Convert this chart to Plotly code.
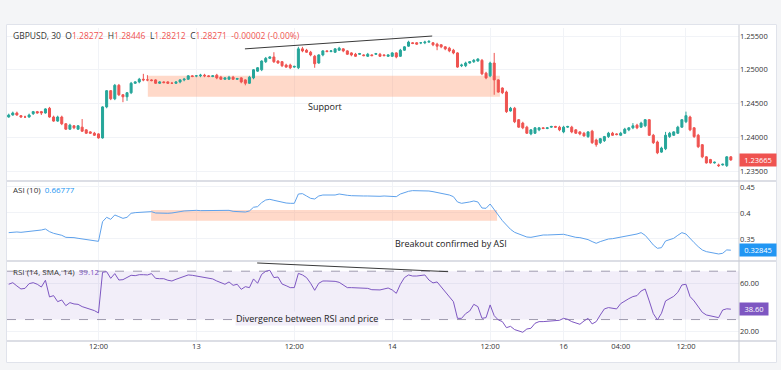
import plotly.graph_objects as go
from plotly.subplots import make_subplots

# ---------------- data ----------------
idx = list(range(178))

opens = [1.2430,1.2433,1.2436,1.2432,1.2430,1.2430,1.2435,1.2438,1.2438,1.2436,
 1.2443,1.2430,1.2424,1.2430,1.2420,1.2412,1.2417,1.2412,1.2415,1.2411,
 1.2408,1.2406,1.2405,1.2399,1.2445,1.2469,1.2457,1.2477,1.2463,1.2460,
 1.2466,1.2480,1.2482,1.2486,1.2485,1.2485,1.2485,1.2480,1.2482,1.2482,
 1.2480,1.2480,1.2482,1.2485,1.2486,1.2491,1.2491,1.2491,1.2492,1.2491,
 1.2490,1.2492,1.2489,1.2486,1.2486,1.2489,1.2486,1.2488,1.2485,1.2480,
 1.2488,1.2498,1.2500,1.2512,1.2517,1.2519,1.2513,1.2512,1.2507,1.2507,
 1.2504,1.2503,1.2531,1.2529,1.2526,1.2520,1.2510,1.2522,1.2528,1.2527,
 1.2526,1.2529,1.2531,1.2528,1.2525,1.2523,1.2523,1.2522,1.2520,1.2522,
 1.2523,1.2523,1.2522,1.2520,1.2520,1.2525,1.2520,1.2529,1.2535,1.2540,
 1.2540,1.2540,1.2540,1.2541,1.2540,1.2538,1.2537,1.2534,1.2532,1.2529,
 1.2525,1.2506,1.2506,1.2510,1.2512,1.2513,1.2514,1.2495,1.2491,1.2510,
 1.2485,1.2473,1.2467,1.2439,1.2443,1.2426,1.2421,1.2415,1.2405,1.2406,
 1.2411,1.2414,1.2413,1.2415,1.2416,1.2415,1.2408,1.2415,1.2415,1.2411,
 1.2408,1.2406,1.2401,1.2409,1.2396,1.2392,1.2395,1.2401,1.2406,1.2405,
 1.2403,1.2406,1.2411,1.2414,1.2418,1.2415,1.2417,1.2426,1.2403,1.2393,
 1.2378,1.2383,1.2401,1.2403,1.2406,1.2415,1.2423,1.2430,1.2414,1.2403,
 1.2389,1.2371,1.2367,1.2362,1.2359,1.2359,1.2358,1.2371]

highs = [1.2435,1.2438,1.2438,1.2433,1.2432,1.2435,1.2439,1.2439,1.2439,1.2443,
 1.2445,1.2432,1.2432,1.2432,1.2421,1.2420,1.2418,1.2418,1.2427,1.2412,
 1.2409,1.2408,1.2406,1.2446,1.2470,1.2470,1.2479,1.2479,1.2464,1.2467,
 1.2482,1.2483,1.2488,1.2494,1.2492,1.2486,1.2486,1.2483,1.2483,1.2483,
 1.2482,1.2483,1.2486,1.2488,1.2492,1.2492,1.2492,1.2494,1.2494,1.2492,
 1.2492,1.2494,1.2491,1.2489,1.2491,1.2491,1.2488,1.2489,1.2486,1.2491,
 1.2501,1.2504,1.2514,1.2519,1.2520,1.2526,1.2514,1.2513,1.2509,1.2509,
 1.2506,1.2534,1.2534,1.2531,1.2528,1.2522,1.2523,1.2529,1.2529,1.2529,
 1.2532,1.2534,1.2532,1.2529,1.2526,1.2525,1.2525,1.2523,1.2525,1.2523,
 1.2525,1.2525,1.2523,1.2523,1.2526,1.2526,1.2531,1.2535,1.2543,1.2541,
 1.2541,1.2541,1.2543,1.2544,1.2541,1.2540,1.2538,1.2535,1.2534,1.2531,
 1.2526,1.2509,1.2512,1.2513,1.2516,1.2517,1.2516,1.2497,1.2512,1.2525,
 1.2486,1.2474,1.2469,1.2445,1.2445,1.2427,1.2423,1.2417,1.2412,1.2415,
 1.2415,1.2415,1.2415,1.2417,1.2417,1.2417,1.2417,1.2417,1.2417,1.2412,
 1.2409,1.2408,1.2409,1.2411,1.2398,1.2399,1.2402,1.2408,1.2408,1.2406,
 1.2408,1.2414,1.2415,1.2421,1.2420,1.2423,1.2427,1.2427,1.2405,1.2395,
 1.2386,1.2408,1.2408,1.2409,1.2417,1.2427,1.2438,1.2432,1.2415,1.2405,
 1.2390,1.2372,1.2368,1.2364,1.2361,1.2361,1.2372,1.2372]

lows = [1.2429,1.2432,1.2432,1.2429,1.2429,1.2429,1.2433,1.2435,1.2433,1.2435,
 1.2429,1.2423,1.2423,1.2418,1.2411,1.2411,1.2412,1.2411,1.2408,1.2405,
 1.2405,1.2402,1.2398,1.2398,1.2443,1.2455,1.2455,1.2461,1.2452,1.2454,
 1.2464,1.2479,1.2480,1.2483,1.2483,1.2483,1.2479,1.2479,1.2480,1.2479,
 1.2479,1.2479,1.2480,1.2483,1.2485,1.2489,1.2489,1.2489,1.2489,1.2489,
 1.2489,1.2486,1.2485,1.2485,1.2485,1.2485,1.2485,1.2480,1.2477,1.2479,
 1.2486,1.2497,1.2498,1.2510,1.2516,1.2510,1.2509,1.2504,1.2503,1.2501,
 1.2503,1.2501,1.2526,1.2525,1.2520,1.2503,1.2509,1.2520,1.2526,1.2526,
 1.2525,1.2528,1.2526,1.2522,1.2520,1.2519,1.2522,1.2520,1.2519,1.2520,
 1.2522,1.2519,1.2520,1.2519,1.2519,1.2517,1.2519,1.2528,1.2534,1.2538,
 1.2537,1.2538,1.2538,1.2540,1.2535,1.2529,1.2532,1.2529,1.2526,1.2523,
 1.2503,1.2504,1.2504,1.2509,1.2510,1.2512,1.2492,1.2486,1.2489,1.2463,
 1.2466,1.2464,1.2436,1.2438,1.2421,1.2414,1.2412,1.2405,1.2403,1.2405,
 1.2409,1.2412,1.2412,1.2414,1.2414,1.2409,1.2406,1.2414,1.2406,1.2405,
 1.2403,1.2401,1.2399,1.2390,1.2386,1.2390,1.2393,1.2399,1.2402,1.2403,
 1.2402,1.2405,1.2409,1.2412,1.2412,1.2414,1.2415,1.2402,1.2390,1.2375,
 1.2377,1.2381,1.2399,1.2402,1.2405,1.2414,1.2421,1.2409,1.2399,1.2384,
 1.2369,1.2361,1.2361,1.2361,1.2356,1.2358,1.2356,1.2365]

closes = [1.2433,1.2436,1.2433,1.2430,1.2430,1.2433,1.2438,1.2436,1.2436,1.2442,
 1.2430,1.2424,1.2430,1.2420,1.2412,1.2418,1.2414,1.2417,1.2409,1.2406,
 1.2406,1.2403,1.2399,1.2445,1.2469,1.2457,1.2477,1.2463,1.2460,1.2466,
 1.2480,1.2482,1.2486,1.2485,1.2485,1.2484,1.2480,1.2482,1.2481,1.2480,
 1.2480,1.2482,1.2485,1.2486,1.2491,1.2490,1.2491,1.2492,1.2491,1.2490,
 1.2491,1.2488,1.2486,1.2488,1.2489,1.2486,1.2487,1.2482,1.2480,1.2489,
 1.2500,1.2503,1.2513,1.2517,1.2519,1.2512,1.2510,1.2506,1.2504,1.2503,
 1.2505,1.2531,1.2528,1.2526,1.2522,1.2509,1.2522,1.2528,1.2527,1.2528,
 1.2531,1.2532,1.2528,1.2523,1.2522,1.2520,1.2524,1.2521,1.2523,1.2521,
 1.2524,1.2520,1.2521,1.2522,1.2525,1.2519,1.2529,1.2534,1.2541,1.2539,
 1.2538,1.2540,1.2541,1.2542,1.2537,1.2535,1.2534,1.2531,1.2528,1.2525,
 1.2504,1.2507,1.2510,1.2512,1.2514,1.2516,1.2494,1.2488,1.2510,1.2485,
 1.2467,1.2466,1.2438,1.2443,1.2423,1.2415,1.2414,1.2406,1.2411,1.2414,
 1.2414,1.2413,1.2414,1.2416,1.2415,1.2411,1.2415,1.2416,1.2408,1.2406,
 1.2405,1.2402,1.2408,1.2392,1.2389,1.2398,1.2401,1.2406,1.2403,1.2404,
 1.2406,1.2412,1.2414,1.2417,1.2414,1.2421,1.2426,1.2403,1.2392,1.2377,
 1.2384,1.2403,1.2406,1.2408,1.2415,1.2426,1.2432,1.2411,1.2401,1.2386,
 1.2371,1.2362,1.2362,1.2363,1.2358,1.2360,1.2371,1.23665]

asi = [0.3622,0.3635,0.3635,0.3628,0.3635,0.3647,0.3660,0.3667,0.3673,0.3692,
 0.3641,0.3609,0.3590,0.3571,0.3532,0.3532,0.3526,0.3513,0.3500,0.3494,
 0.3481,0.3468,0.3455,0.3833,0.3917,0.3878,0.3962,0.3930,0.3897,0.3917,
 0.3994,0.4007,0.4013,0.4019,0.4026,0.4026,0.4000,0.3994,0.3994,0.3994,
 0.4000,0.4007,0.4026,0.4039,0.4045,0.4051,0.4051,0.4045,0.4045,0.4045,
 0.4045,0.4039,0.4039,0.4045,0.4051,0.4032,0.4026,0.4019,0.4019,0.4039,
 0.4110,0.4122,0.4199,0.4250,0.4263,0.4244,0.4225,0.4205,0.4192,0.4186,
 0.4186,0.4365,0.4372,0.4327,0.4282,0.4269,0.4327,0.4346,0.4346,0.4346,
 0.4346,0.4365,0.4346,0.4340,0.4333,0.4327,0.4327,0.4327,0.4327,0.4321,
 0.4314,0.4321,0.4327,0.4327,0.4321,0.4314,0.4365,0.4397,0.4417,0.4430,
 0.4430,0.4430,0.4430,0.4423,0.4410,0.4397,0.4385,0.4372,0.4346,0.4314,
 0.4212,0.4186,0.4192,0.4212,0.4231,0.4212,0.4096,0.4090,0.4173,0.4058,
 0.3955,0.3853,0.3769,0.3686,0.3628,0.3603,0.3564,0.3538,0.3532,0.3545,
 0.3571,0.3577,0.3577,0.3577,0.3583,0.3583,0.3590,0.3571,0.3551,0.3532,
 0.3526,0.3513,0.3488,0.3450,0.3417,0.3450,0.3481,0.3500,0.3506,0.3519,
 0.3532,0.3551,0.3564,0.3577,0.3596,0.3622,0.3571,0.3481,0.3385,0.3321,
 0.3333,0.3462,0.3481,0.3513,0.3571,0.3622,0.3596,0.3506,0.3430,0.3353,
 0.3289,0.3257,0.3244,0.3225,0.3212,0.3225,0.3290,0.32845]

rsi = [59.2,60.5,57.8,55.3,55.8,59.7,60.5,59.2,56.9,62.5,
 48.7,49.8,44.8,46.2,41.5,44.0,42.9,42.6,40.7,39.6,
 38.8,37.4,35.5,69.1,69.6,64.1,68.0,62.7,63.0,64.7,
 66.6,66.3,67.1,67.1,66.9,68.0,64.1,63.8,63.8,62.5,
 61.9,63.3,64.4,65.5,66.9,66.6,66.0,65.5,64.7,64.1,
 63.6,61.9,60.5,59.2,61.1,58.3,59.2,55.0,57.2,56.4,
 63.6,60.0,67.4,69.9,70.7,64.7,65.2,59.4,58.0,56.4,
 56.4,68.2,66.9,64.7,60.0,54.2,60.0,61.9,61.9,61.9,
 61.6,60.8,58.6,56.4,56.4,56.1,55.8,55.8,55.8,54.7,
 54.7,54.5,55.3,56.1,54.5,51.7,59.2,64.7,66.9,66.0,
 66.0,66.3,66.9,62.7,60.3,61.1,57.2,53.1,49.0,44.8,
 31.0,31.0,34.9,37.1,42.6,40.7,31.0,31.6,42.1,33.2,
 29.7,28.3,23.3,24.4,21.7,20.6,19.5,22.2,22.8,26.9,
 28.3,28.3,28.6,28.8,28.8,29.4,31.0,30.2,28.3,27.2,
 26.1,28.8,31.0,26.4,28.3,33.8,38.8,39.9,39.3,38.8,
 43.2,45.4,47.3,49.0,49.8,53.6,55.3,45.4,34.9,29.7,
 35.2,45.4,47.6,49.2,52.5,58.6,59.2,49.0,45.4,40.7,
 36.0,33.8,33.2,32.2,31.6,37.9,38.9,38.6]

tick_pos = [22, 46, 70, 94, 118, 136, 150, 166]
tick_text = ["12:00", "13", "12:00", "14", "12:00", "16", "04:00", "12:00"]
price_ticks = [1.235, 1.240, 1.245, 1.250, 1.255]
asi_ticks = [0.35, 0.40, 0.45]
asi_tick_text = ["0.35", "0.4", "0.45"]
rsi_ticks = [20, 60]
rsi_bands = [30, 70]

support_x = [34.1, 120.4]
support_y = [1.2460, 1.2491]
asi_zone_x = [34.9, 119.7]
asi_zone_y = [0.3852, 0.4058]
price_div_x = [57.9, 103.8]
price_div_y = [1.2531, 1.2550]
rsi_div_x = [60.9, 107.7]
rsi_div_y = [76.8, 69.6]

legend_vals = ["1.28272", "1.28446", "1.28212", "1.28271", "-0.00002 (-0.00%)"]
asi_legend_val = "0.66777"
rsi_legend_val = "39.12"

# ---------------- styling ----------------
GREEN = "#26a69a"
RED = "#ef5350"
ASI_C = "#5fa2ec"
RSI_C = "#7e57c2"
GRID = "#f1f3f7"
TXT = "#333333"
FONT = "Open Sans"

W, H = 781, 370
ML, MR, MT, MB = 7, 42, 28, 30
PW = W - ML - MR
PH = H - MT - MB


def xp(px):
    return (px - ML) / PW


def yp(py):
    return (H - MB - py) / PH


fig = make_subplots(rows=3, cols=1, shared_xaxes=True, vertical_spacing=0.0)

fig.add_trace(go.Candlestick(
    x=idx, open=opens, high=highs, low=lows, close=closes,
    increasing=dict(line=dict(color=GREEN, width=1), fillcolor=GREEN),
    decreasing=dict(line=dict(color=RED, width=1), fillcolor=RED),
    whiskerwidth=0, showlegend=False, hoverinfo="skip"), row=1, col=1)

fig.add_trace(go.Scatter(x=price_div_x, y=price_div_y, mode="lines",
                         line=dict(color="#3a3a3a", width=1), showlegend=False,
                         hoverinfo="skip"), row=1, col=1)

fig.add_trace(go.Scatter(x=idx, y=asi, mode="lines",
                         line=dict(color=ASI_C, width=1), showlegend=False,
                         hoverinfo="skip"), row=2, col=1)

fig.add_trace(go.Scatter(x=idx, y=rsi, mode="lines",
                         line=dict(color=RSI_C, width=1), showlegend=False,
                         hoverinfo="skip"), row=3, col=1)

fig.add_trace(go.Scatter(x=rsi_div_x, y=rsi_div_y, mode="lines",
                         line=dict(color="#3a3a3a", width=1), showlegend=False,
                         hoverinfo="skip"), row=3, col=1)

XR = [-0.42, 179.0]
shapes = []
# zones
shapes.append(dict(type="rect", xref="x", yref="y", x0=support_x[0], x1=support_x[1],
                   y0=support_y[0], y1=support_y[1], fillcolor="rgba(255,150,105,0.36)",
                   line=dict(width=0), layer="between"))
shapes.append(dict(type="rect", xref="x2", yref="y2", x0=asi_zone_x[0], x1=asi_zone_x[1],
                   y0=asi_zone_y[0], y1=asi_zone_y[1], fillcolor="rgba(255,150,105,0.36)",
                   line=dict(width=0), layer="between"))
# RSI band
shapes.append(dict(type="rect", xref="x3", yref="y3", x0=XR[0], x1=XR[1],
                   y0=rsi_bands[0], y1=rsi_bands[1], fillcolor="rgba(126,87,194,0.10)",
                   line=dict(width=0), layer="between"))
for b in rsi_bands:
    shapes.append(dict(type="line", xref="x3", yref="y3", x0=XR[0], x1=XR[1], y0=b, y1=b,
                       line=dict(color="#9e9aae", width=1, dash="dash"), layer="between"))

# outer frame
BG = "#f4f5f7"
shapes.append(dict(type="rect", xref="paper", yref="paper", x0=xp(0), x1=xp(W),
                   y0=yp(24), y1=yp(0), fillcolor=BG, line=dict(width=0), layer="above"))
shapes.append(dict(type="rect", xref="paper", yref="paper", x0=xp(0), x1=xp(W),
                   y0=yp(H), y1=yp(363), fillcolor=BG, line=dict(width=0), layer="above"))
shapes.append(dict(type="rect", xref="paper", yref="paper", x0=xp(0), x1=xp(6),
                   y0=yp(H), y1=yp(0), fillcolor=BG, line=dict(width=0), layer="above"))
shapes.append(dict(type="rect", xref="paper", yref="paper", x0=xp(777), x1=xp(W),
                   y0=yp(H), y1=yp(0), fillcolor=BG, line=dict(width=0), layer="above"))
shapes.append(dict(type="rect", xref="paper", yref="paper", x0=xp(6.5), x1=xp(776.5),
                   y0=yp(362.5), y1=yp(24.5), fillcolor="rgba(0,0,0,0)",
                   line=dict(color="#e0e3eb", width=1), layer="above"))
# separators
for sy in [181, 261, 341]:
    shapes.append(dict(type="line", xref="paper", yref="paper", x0=xp(7), x1=xp(776),
                       y0=yp(sy), y1=yp(sy), line=dict(color="#dcdee5", width=2), layer="above"))
shapes.append(dict(type="line", xref="paper", yref="paper", x0=xp(739), x1=xp(739),
                   y0=yp(362), y1=yp(25), line=dict(color="#c9ccd4", width=1), layer="above"))

annotations = []
legend_txt = ("GBPUSD, 30&nbsp;&nbsp;O<span style='color:%s'>%s</span>&nbsp;&nbsp;"
              "H<span style='color:%s'>%s</span>&nbsp;&nbsp;L<span style='color:%s'>%s</span>&nbsp;&nbsp;"
              "C<span style='color:%s'>%s</span>&nbsp;&nbsp;<span style='color:%s'>%s</span>") % (
    RED, legend_vals[0], RED, legend_vals[1], RED, legend_vals[2], RED, legend_vals[3], RED, legend_vals[4])
annotations.append(dict(text=legend_txt, xref="paper", yref="paper", x=xp(11), y=yp(35),
                        xanchor="left", yanchor="middle", showarrow=False,
                        font=dict(family=FONT, size=8.5, color=TXT)))
annotations.append(dict(text="ASI (10)&nbsp;&nbsp;<span style='color:%s'>%s</span>" % ("#2196f3", asi_legend_val),
                        xref="paper", yref="paper", x=xp(11), y=yp(190),
                        xanchor="left", yanchor="middle", showarrow=False,
                        font=dict(family=FONT, size=8, color=TXT)))
annotations.append(dict(text="RSI (14, SMA, 14)&nbsp;&nbsp;<span style='color:%s'>%s</span>" % (RSI_C, rsi_legend_val),
                        xref="paper", yref="paper", x=xp(11), y=yp(271),
                        xanchor="left", yanchor="middle", showarrow=False,
                        font=dict(family=FONT, size=8, color=TXT)))

annotations.append(dict(text="Support", xref="x", yref="y", x=77.5, y=1.24463,
                        showarrow=False, font=dict(family=FONT, size=9, color="#222")))
annotations.append(dict(text="Breakout confirmed by ASI", xref="x2", yref="y2", x=108.4, y=0.3417,
                        showarrow=False, font=dict(family=FONT, size=9, color="#222")))
annotations.append(dict(text="Divergence between RSI and price", xref="x3", yref="y3", x=73.1, y=31.1,
                        showarrow=False, bgcolor="#f2eef9", borderpad=0,
                        font=dict(family=FONT, size=9, color="#222")))

# last value boxes
for yref, val, txt, col, w in [("y", closes[-1], "%.5f" % closes[-1], RED, 34),
                              ("y2", asi[-1], "%.5f" % asi[-1], "#2196f3", 34),
                              ("y3", rsi[-1], "%.2f" % rsi[-1], RSI_C, 26)]:
    annotations.append(dict(text=txt, xref="paper", yref=yref, x=1.0, y=val,
                            xanchor="left", yanchor="middle", showarrow=False,
                            bgcolor=col, width=w, height=10, borderpad=1, align="center",
                            font=dict(family=FONT, size=7.5, color="white")))

fig.update_layout(
    width=W, height=H, margin=dict(l=ML, r=MR, t=MT, b=MB),
    paper_bgcolor="white", plot_bgcolor="rgba(0,0,0,0)",
    showlegend=False, shapes=shapes, annotations=annotations,
    font=dict(family=FONT, size=8, color=TXT),
)

for ax in ["xaxis", "xaxis2", "xaxis3"]:
    fig.layout[ax].update(range=XR, tickvals=tick_pos, ticktext=tick_text, showgrid=True,
                          gridcolor=GRID, gridwidth=1, zeroline=False, showline=False,
                          ticks="", rangeslider=dict(visible=False), showticklabels=False)
fig.layout.xaxis3.update(showticklabels=True, tickfont=dict(family=FONT, size=7.5, color=TXT))

fig.layout.yaxis.update(domain=[yp(180), yp(28)], range=[1.23367, 1.25619], side="right",
                        tickvals=price_ticks, tickformat=".5f")
fig.layout.yaxis2.update(domain=[yp(260), yp(182)], range=[0.3096, 0.4596], side="right",
                         tickvals=asi_ticks, ticktext=asi_tick_text)
fig.layout.yaxis3.update(domain=[yp(340), yp(262)], range=[13.1, 77.6], side="right",
                         tickvals=rsi_ticks, tickformat=".2f")
for ax in ["yaxis", "yaxis2", "yaxis3"]:
    fig.layout[ax].update(showgrid=True, gridcolor=GRID, zeroline=False, showline=False,
                          ticks="", tickfont=dict(family=FONT, size=7.5, color=TXT))

fig.write_html("out.html", config={"displayModeBar": False},
               post_script="document.body.style.margin='0px';")
